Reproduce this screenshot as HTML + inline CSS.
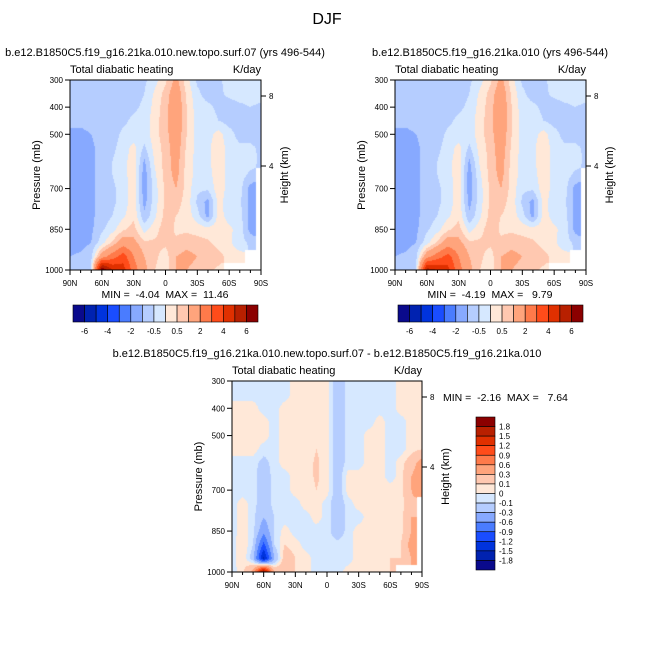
<!DOCTYPE html>
<html><head><meta charset="utf-8">
<style>
html,body{margin:0;padding:0;background:#fff;}
#root{position:relative;width:654px;height:654px;overflow:hidden;font-family:"Liberation Sans",sans-serif;color:#000;}
.t{position:absolute;white-space:nowrap;line-height:1;}
canvas{position:absolute;}
svg{position:absolute;left:0;top:0;}
</style></head>
<body>
<div id="root">
<div class="t" style="left:0;width:654px;text-align:center;top:12px;font-size:16px;">DJF</div>
<canvas id="c1" width="191" height="190" style="left:70px;top:80px"></canvas>
<canvas id="c2" width="191" height="190" style="left:395px;top:80px"></canvas>
<canvas id="c3" width="190" height="191" style="left:232px;top:381px"></canvas>
<svg id="ov" width="654" height="654"></svg>
</div>
<script>
// ---------- data ----------
const lats = [90,80,70,60,50,40,30,20,10,0,-10,-20,-30,-40,-50,-60,-70,-80,-90];
const levels = [300,350,400,450,500,550,600,650,700,750,800,850,900,950,1000];
const N = NaN;
const field1 = [
[-0.7,-0.7,-0.7,-0.7,-0.7,-0.7,-0.7,-0.6,-0.2,0.4,1.2,0.2,-0.6,-0.7,-0.6,-0.3,-0.3,-0.3,-0.3],
[-0.7,-0.7,-0.7,-0.7,-0.7,-0.7,-0.7,-0.5,0.1,0.7,1.5,0.4,-0.4,-0.7,-0.6,-0.4,-0.3,-0.3,-0.3],
[-0.7,-0.7,-0.7,-0.7,-0.7,-0.7,-0.6,-0.4,0.2,0.8,1.6,0.5,-0.3,-0.4,-0.6,-0.7,-0.6,-0.5,-0.6],
[-0.8,-0.8,-0.7,-0.7,-0.7,-0.6,-0.4,-0.3,0.3,0.8,1.6,0.5,-0.2,-0.3,-0.5,-0.7,-0.7,-0.7,-0.7],
[-1.2,-1.2,-1.0,-0.8,-0.7,-0.4,-0.3,-0.3,0.3,0.8,1.5,0.5,-0.2,-0.2,0.2,-0.3,-0.7,-0.7,-0.7],
[-1.2,-1.2,-1.1,-0.8,-0.6,-0.3,0.2,-0.6,0.2,0.7,1.4,0.4,-0.2,-0.1,0.3,-0.2,-0.4,-0.4,-0.6],
[-1.2,-1.2,-1.1,-0.8,-0.5,-0.2,0.3,-1.1,0.1,0.7,1.3,0.3,-0.2,-0.1,0.3,-0.2,-0.3,-0.3,-0.6],
[-1.2,-1.2,-1.1,-0.8,-0.5,-0.2,0.3,-1.3,-0.1,0.7,1.2,0.3,-0.2,-0.2,0.3,-0.2,-0.3,-0.6,N],
[-1.2,-1.2,-1.1,-0.8,-0.6,-0.3,0.3,-1.3,-0.2,0.6,1.0,0.3,-0.4,-0.4,0.3,-0.2,-0.3,-1.2,N],
[-1.2,-1.2,-1.1,-0.8,-0.6,-0.3,0.3,-1.2,-0.2,0.6,0.7,0.3,-0.6,-1.2,0.2,-0.3,-0.4,-1.2,N],
[-1.2,-1.2,-1.1,-0.8,-0.5,-0.1,0.4,-0.9,-0.1,0.7,0.5,0.3,-0.3,-1.2,0.2,-0.2,-0.3,-1.2,N],
[-1.2,-1.2,-1.1,-0.6,-0.2,0.4,0.7,-0.2,0.3,0.8,0.4,0.4,0.3,0.2,0.3,0.1,-0.2,-1.2,N],
[-1.2,-1.2,-1.0,-0.2,0.6,1.5,1.2,0.6,0.6,0.6,0.6,0.8,0.7,0.6,0.3,0.1,-0.3,-0.6,N],
[-1.0,-0.9,-0.6,1.5,2.5,3.5,2.0,1.0,0.6,0.3,1.0,1.2,1.0,0.8,0.7,0.3,0.2,N,N],
[-0.8,-0.7,-0.5,7.0,5.0,4.5,2.5,1.2,0.5,0.2,1.0,1.0,0.8,0.6,0.4,N,N,N,N]
];
const field2 = [
[-0.7,-0.7,-0.7,-0.7,-0.7,-0.7,-0.7,-0.6,-0.2,0.4,1.2,0.2,-0.6,-0.7,-0.6,-0.3,-0.3,-0.3,-0.3],
[-0.7,-0.7,-0.7,-0.7,-0.7,-0.7,-0.7,-0.5,0.1,0.7,1.5,0.4,-0.4,-0.7,-0.6,-0.4,-0.3,-0.3,-0.3],
[-0.7,-0.7,-0.7,-0.7,-0.7,-0.7,-0.6,-0.4,0.2,0.8,1.6,0.5,-0.3,-0.4,-0.6,-0.7,-0.6,-0.5,-0.6],
[-0.8,-0.8,-0.7,-0.7,-0.7,-0.6,-0.4,-0.3,0.3,0.8,1.6,0.5,-0.2,-0.3,-0.5,-0.7,-0.7,-0.7,-0.7],
[-1.2,-1.2,-1.0,-0.8,-0.7,-0.4,-0.3,-0.3,0.3,0.8,1.5,0.5,-0.2,-0.2,0.2,-0.3,-0.7,-0.7,-0.7],
[-1.2,-1.2,-1.1,-0.8,-0.6,-0.3,0.2,-0.6,0.2,0.7,1.4,0.4,-0.2,-0.1,0.3,-0.2,-0.4,-0.4,-0.6],
[-1.2,-1.2,-1.1,-0.8,-0.5,-0.2,0.3,-1.1,0.1,0.7,1.3,0.3,-0.2,-0.1,0.3,-0.2,-0.3,-0.3,-0.6],
[-1.2,-1.2,-1.1,-0.8,-0.5,-0.2,0.3,-1.3,-0.1,0.7,1.2,0.3,-0.2,-0.2,0.3,-0.2,-0.3,-0.6,N],
[-1.2,-1.2,-1.1,-0.8,-0.6,-0.3,0.3,-1.3,-0.2,0.6,1.0,0.3,-0.4,-0.4,0.3,-0.2,-0.3,-1.2,N],
[-1.2,-1.2,-1.1,-0.8,-0.6,-0.3,0.3,-1.2,-0.2,0.6,0.7,0.3,-0.6,-1.2,0.2,-0.3,-0.4,-1.2,N],
[-1.2,-1.2,-1.1,-0.8,-0.5,-0.1,0.4,-0.9,-0.1,0.7,0.5,0.3,-0.3,-1.2,0.2,-0.2,-0.3,-1.2,N],
[-1.2,-1.2,-1.1,-0.6,-0.2,0.4,0.7,-0.2,0.3,0.8,0.4,0.4,0.3,0.2,0.3,0.1,-0.2,-1.2,N],
[-1.2,-1.2,-1.0,-0.2,0.6,1.5,1.2,0.6,0.6,0.6,0.6,0.8,0.7,0.6,0.3,0.1,-0.3,-0.6,N],
[-1.0,-0.9,-0.6,1.6,2.5,3.4,2.0,1.0,0.6,0.3,1.0,1.2,1.0,0.8,0.7,0.3,0.2,N,N],
[-0.8,-0.7,-0.5,5.5,5.0,4.3,2.4,1.2,0.5,0.2,1.0,1.0,0.8,0.6,0.4,N,N,N,N]
];
const field3 = [
[-.05,-.05,-.05,-.05,-.05,-.05,.05,.05,.05,.05,-.2,-.05,-.05,-.05,-.05,-.05,.05,.05,.05],
[-.05,-.05,-.05,-.05,-.05,-.05,.05,.05,.05,.05,-.2,-.05,-.05,-.05,-.05,-.05,.05,.05,.05],
[.05,.05,.05,-.05,-.05,.05,.05,.05,.05,.05,-.2,-.05,-.05,-.05,-.05,-.05,.05,.05,.05],
[.05,.05,.05,.05,-.05,.05,.05,.05,.05,.05,-.2,-.05,-.05,-.05,.05,-.05,-.05,.05,.05],
[.05,.05,.05,.05,-.05,.05,.05,.05,.05,.05,-.2,-.05,-.05,.05,.05,-.05,-.05,.05,.05],
[.05,.05,.05,-.05,-.05,.05,.05,.05,.1,.05,-.2,-.05,-.05,.05,.05,-.05,-.05,.05,.1],
[-.05,-.05,-.05,-.15,-.05,.05,.05,.05,.12,.05,-.2,-.05,-.05,.05,.05,-.05,.05,.2,.4],
[-.05,-.05,-.05,-.2,-.05,-.05,.05,.05,.12,.05,-.2,.05,.05,.05,.05,-.05,.05,.3,.5],
[-.05,-.05,-.05,-.2,-.05,-.05,.05,.05,.1,.05,-.2,.05,.05,.05,.05,.05,.05,.3,.6],
[-.05,.05,-.05,-.2,-.05,-.05,-.05,.05,.05,-.05,-.2,-.05,.05,.05,.05,.05,.05,.2,N],
[-.05,.05,-.05,-.3,-.1,-.05,-.05,-.05,.05,-.05,-.2,-.05,-.05,.05,.05,.05,.05,.3,N],
[-.05,.05,-.05,-.5,-.1,.05,-.05,-.05,-.05,-.05,-.2,-.05,.05,.05,.05,.05,.05,.3,N],
[-.05,.1,-.1,-1.0,-.1,.1,.05,-.05,-.05,-.05,-.05,-.05,.05,.05,.05,.05,.1,.4,N],
[-.05,.1,-.2,-1.6,-.3,.2,.1,.05,-.05,-.05,-.05,-.05,.05,.05,.05,.1,.1,.3,N],
[-.05,.05,.4,2.0,.3,.2,.1,.05,-.05,-.05,-.05,.05,.05,.05,.05,.1,N,N,N]
];
const bounds12 = [-6,-5,-4,-3,-2,-1,-0.5,0,0.5,1,2,3,4,5,6];
const bounds3 = [-1.8,-1.5,-1.2,-0.9,-0.6,-0.3,-0.1,0,0.1,0.3,0.6,0.9,1.2,1.5,1.8];
const cbLabels12 = ["-6","-4","-2","-0.5","0.5","2","4","6"];
const cbLabels3 = ["1.8","1.5","1.2","0.9","0.6","0.3","0.1","0","-0.1","-0.3","-0.6","-0.9","-1.2","-1.5","-1.8"];
const colors = ["#0a0a8c","#0022b0","#0033dd","#1a4dff","#4a7cff","#87a9ff","#b5cdff","#d6e8ff","#ffe8d8","#ffc8b0","#ffa47c","#ff7a4a","#ff4c1a","#e03000","#b82000","#8b0000"];
const pTicks = [300,400,500,700,850,1000];
const xTickLabels = ["90N","60N","30N","0","30S","60S","90S"];
const xTickLats = [90,60,30,0,-30,-60,-90];

// ---------- rendering ----------
function colorFor(v,b){let i=0;while(i<b.length&&v>=b[i])i++;return colors[i];}
function sample(f,lat,p){
  const fx=(90-lat)/10, fy=(p-300)/50;
  const i0=Math.min(Math.floor(fx),17), j0=Math.min(Math.floor(fy),13);
  const tx=fx-i0, ty=fy-j0;
  const ni=Math.round(fx), nj=Math.round(fy);
  if(isNaN(f[nj][ni])) return NaN;
  const g=(j,i)=>{const v=f[j][i];return isNaN(v)?f[nj][ni]:v;};
  return (1-ty)*((1-tx)*g(j0,i0)+tx*g(j0,i0+1))+ty*((1-tx)*g(j0+1,i0)+tx*g(j0+1,i0+1));
}
function drawField(id,f,b){
  const c=document.getElementById(id),ctx=c.getContext('2d');
  const W=c.width,H=c.height;
  const lonOf=x=>90-(x+0.5)/W*180, pOf=y=>300+(y+0.5)/H*700;
  for(let y=0;y<H;y++)for(let x=0;x<W;x++){
    const v=sample(f,lonOf(x),pOf(y));
    if(isNaN(v))continue;
    ctx.fillStyle=colorFor(v,b);ctx.fillRect(x,y,1,1);
  }
}
drawField('c1',field1,bounds12);
drawField('c2',field2,bounds12);
drawField('c3',field3,bounds3);

const NS='http://www.w3.org/2000/svg';
const ov=document.getElementById('ov');
function el(tag,attrs,parent){const e=document.createElementNS(NS,tag);for(const k in attrs)e.setAttribute(k,attrs[k]);(parent||ov).appendChild(e);return e;}
function txt(x,y,s,size,anchor,parent,rot){const e=el('text',{x:x,y:y,'font-size':size,'text-anchor':anchor||'start','font-family':'Liberation Sans, sans-serif',fill:'#000',style:'white-space:pre'},parent);if(rot)e.setAttribute('transform','rotate(-90 '+x+' '+y+')');e.textContent=s;return e;}

function axes(x0,y0,w,h,sub,subCx,minmax,mmX,mmY,mmAnchor){
  const g=el('g',{});
  
  
  const xs=lat=>x0+(90-lat)/180*w, ys=p=>y0+(p-300)/700*h;
  el('rect',{x:x0,y:y0,width:w,height:h,fill:'none',stroke:'#000','stroke-width':1},g);
  const st=txt(subCx,y0-24,sub,11,'middle',g);
  
  
  txt(x0,y0-7,'Total diabatic heating',11,'start',g);
  txt(x0+w,y0-7,'K/day',11,'end',g);
  for(let i=0;i<pTicks.length;i++){const y=ys(pTicks[i]);el('line',{x1:x0-5,y1:y,x2:x0,y2:y,stroke:'#000'},g);
    const t=txt(x0-7,y+3,String(pTicks[i]),8,'end',g);
    
    }
  for(let l=90;l>=-90;l-=10){const x=xs(l);const maj=(l%30===0);el('line',{x1:x,y1:y0+h,x2:x,y2:y0+h+(maj?5:3),stroke:'#000'},g);}
  for(let i=0;i<xTickLabels.length;i++){const t=txt(xs(xTickLats[i]),y0+h+16,xTickLabels[i],8,'middle',g);
    
    }
  [[8,16],[4,86]].forEach(([km,dy])=>{el('line',{x1:x0+w,y1:y0+dy,x2:x0+w+5,y2:y0+dy,stroke:'#000'},g);txt(x0+w+8,y0+dy+3,String(km),8,'start',g);});
  const yl=txt(x0-30,y0+h/2,'Pressure (mb)',11,'middle',g,true);
  
  
  const hl=txt(x0+w+27,y0+h/2,'Height (km)',11,'middle',g,true);
  
  
  const mm=txt(mmX,mmY,minmax,10.5,mmAnchor,g);
  
  
}
axes(70,80,191,190,'b.e12.B1850C5.f19_g16.21ka.010.new.topo.surf.07 (yrs 496-544)',165,'MIN =  -4.04  MAX =  11.46',165,298,'middle');
axes(395,80,191,190,'b.e12.B1850C5.f19_g16.21ka.010 (yrs 496-544)',490,'MIN =  -4.19  MAX =   9.79',490,298,'middle');
axes(232,381,190,191,'b.e12.B1850C5.f19_g16.21ka.010.new.topo.surf.07 - b.e12.B1850C5.f19_g16.21ka.010',327,'MIN =  -2.16  MAX =   7.64',443,401,'start');

function hbar(x0,y0,w,h){
  const g=el('g',{});
  
  
  const bw=w/colors.length;
  colors.forEach((c,i)=>el('rect',{x:x0+i*bw,y:y0,width:bw,height:h,fill:c,stroke:'#000','stroke-width':0.6},g));
  cbLabels12.forEach((s,k)=>{const t=txt(x0+(2*k+1)*bw,y0+h+12,s,8,'middle',g);
    
    });
}
hbar(73,305,185,17);
hbar(398,305,185,17);
(function(){
  const x0=476,y0=417,w=19,h=153;
  const g=el('g',{});
  
  
  const bh=h/colors.length;
  for(let i=0;i<colors.length;i++)el('rect',{x:x0,y:y0+i*bh,width:w,height:bh,fill:colors[colors.length-1-i],stroke:'#000','stroke-width':0.6},g);
  cbLabels3.forEach((s,k)=>{const t=txt(x0+w+4,y0+(k+1)*bh+3,s,8,'start',g);
    
    });
})();
</script>
</body></html>
